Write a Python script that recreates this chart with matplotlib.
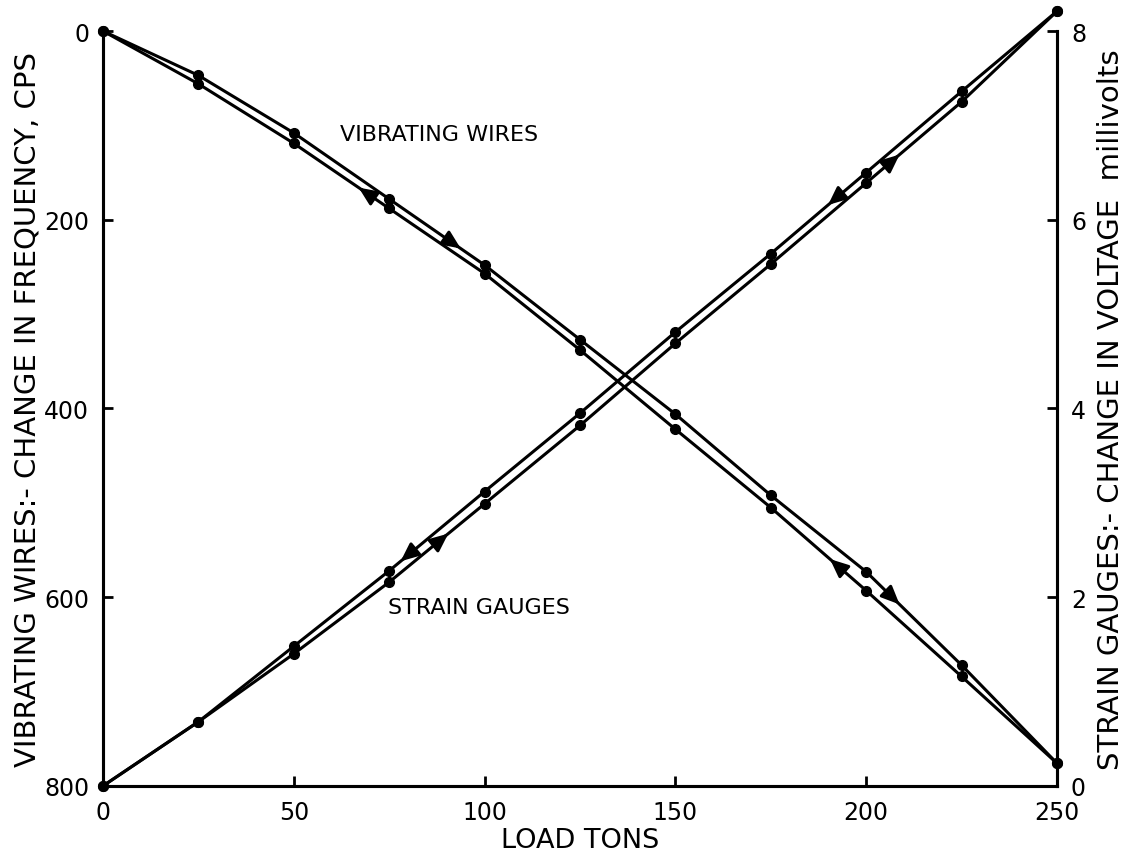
import numpy as np
import matplotlib
matplotlib.use("Agg")
import matplotlib.pyplot as plt

# load in tons, readings every 25 tons
load = [0, 25, 50, 75, 100, 125, 150, 175, 200, 225, 250]

# vibrating wires: change in frequency, cps (left axis, inverted)
vw_loading = [0, 47, 108, 178, 248, 327, 406, 492, 573, 672, 776]
vw_unloading = [0, 56, 119, 188, 257, 338, 422, 505, 593, 684, 776]

# strain gauges: change in voltage, millivolts (right axis)
sg_loading = [0, 0.68, 1.40, 2.16, 2.99, 3.82, 4.69, 5.53, 6.39, 7.25, 8.21]
sg_unloading = [0, 0.68, 1.48, 2.28, 3.12, 3.95, 4.81, 5.64, 6.50, 7.36, 8.21]

left_ticks = [0, 200, 400, 600, 800]
right_ticks = [0, 2, 4, 6, 8]
x_ticks = [0, 50, 100, 150, 200, 250]

plt.rcParams['font.family'] = ['DejaVu Sans']
LW = 2.2


def arrow(ax, xs, ys, i, t, forward):
    # arrow head sitting on segment i -> i+1, at fraction t
    x1, x2 = xs[i], xs[i + 1]
    y1, y2 = ys[i], ys[i + 1]
    tip = (x1 + (x2 - x1) * t, y1 + (y2 - y1) * t)
    d = -0.12 if forward else 0.12
    tail = (x1 + (x2 - x1) * (t + d), y1 + (y2 - y1) * (t + d))
    ax.annotate('', xy=tip, xytext=tail,
                arrowprops=dict(arrowstyle='-|>,head_length=0.5,head_width=0.22',
                                color='black', lw=LW,
                                mutation_scale=22, shrinkA=0, shrinkB=0))


fig = plt.figure(figsize=(11.24, 8.54), dpi=100)
ax = fig.add_axes([0.0916, 0.0785, 0.8488, 0.884])
ax2 = ax.twinx()

ax.plot(load, vw_loading, color='black', lw=LW, marker='o', ms=7, clip_on=False, zorder=3)
ax.plot(load, vw_unloading, color='black', lw=LW, marker='o', ms=7, clip_on=False, zorder=3)
ax2.plot(load, sg_loading, color='black', lw=LW, marker='o', ms=7, clip_on=False, zorder=3)
ax2.plot(load, sg_unloading, color='black', lw=LW, marker='o', ms=7, clip_on=False, zorder=3)

arrow(ax, load, vw_loading, 3, 0.75, True)
arrow(ax, load, vw_loading, 8, 0.35, True)
arrow(ax, load, vw_unloading, 2, 0.68, False)
arrow(ax, load, vw_unloading, 7, 0.62, False)
arrow(ax2, load, sg_unloading, 3, 0.12, False)
arrow(ax2, load, sg_unloading, 7, 0.60, False)
arrow(ax2, load, sg_loading, 3, 0.62, True)
arrow(ax2, load, sg_loading, 8, 0.35, True)

ax.set_xlim(0, 250)
ax.set_ylim(800, 0)
ax2.set_ylim(0, 8)

ax.set_xticks(x_ticks)
ax.set_yticks(left_ticks)
ax2.set_yticks(right_ticks)

for a in (ax, ax2):
    a.spines['top'].set_visible(False)
    for s in a.spines.values():
        s.set_linewidth(2.2)
    a.tick_params(direction='in', length=7, width=2, labelsize=17, pad=10)

ax.set_xlabel('LOAD TONS', fontsize=19.5, labelpad=2)
ax.set_ylabel('VIBRATING WIRES:- CHANGE IN FREQUENCY, CPS', fontsize=21, labelpad=2)
ax2.set_ylabel('STRAIN GAUGES:- CHANGE IN VOLTAGE  millivolts', fontsize=21, labelpad=8)

ax.text(62.1, 109, 'VIBRATING WIRES', fontsize=16, va='center', ha='left')
ax.text(74.7, 610, 'STRAIN GAUGES', fontsize=16, va='center', ha='left')

fig.savefig('out.png', dpi=100)
